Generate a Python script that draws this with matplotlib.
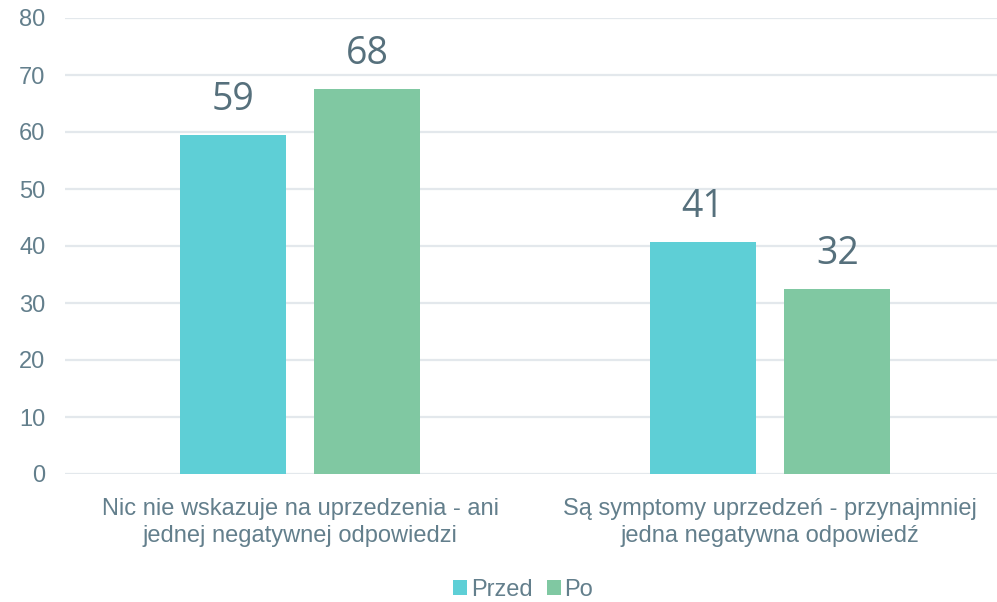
import matplotlib.pyplot as plt
import numpy as np
from matplotlib.patches import Patch

# --- data ---
categories = ['Nic nie wskazuje na uprzedzenia - ani\njednej negatywnej odpowiedzi',
              'Są symptomy uprzedzeń - przynajmniej\njedna negatywna odpowiedź']
przed = [59.4, 40.7]
po = [67.5, 32.4]
przed_labels = ['59', '41']
po_labels = ['68', '32']
series_names = ['Przed', 'Po']
y_ticks = [0, 10, 20, 30, 40, 50, 60, 70, 80]

c_przed = '#5ecfd6'
c_po = '#80c8a2'
tick_col = '#637f8c'
label_col = '#56707c'

fig = plt.figure(figsize=(9.97, 6.02), dpi=100)
ax = fig.add_axes([65 / 997, 1 - 474 / 602, 932 / 997, (474 - 18) / 602])

x = np.arange(len(categories))
w = 0.2255
off = 0.1436
b1 = ax.bar(x - off, przed, width=w, color=c_przed, zorder=3)
b2 = ax.bar(x + off, po, width=w, color=c_po, zorder=3)

for bars, labs in [(b1, przed_labels), (b2, po_labels)]:
    for rect, lab in zip(bars, labs):
        ax.annotate(lab, (rect.get_x() + rect.get_width() / 2, rect.get_height()),
                    xytext=(0, 11.5), textcoords='offset points',
                    ha='center', va='bottom', fontsize=27,
                    family='Open Sans', color=label_col)

ax.set_xlim(-0.5, -0.5 + 932 / 470)
ax.set_ylim(0, 80)
ax.set_yticks(y_ticks)
ax.set_xticks(x)
ax.set_xticklabels(categories, linespacing=1.3)
ax.yaxis.grid(True, color='#e3e8ec', linewidth=1.6, zorder=0)
ax.set_axisbelow(True)
for s in ax.spines.values():
    s.set_visible(False)
ax.tick_params(axis='both', length=0, labelsize=17, labelcolor=tick_col)
ax.tick_params(axis='y', pad=14)
ax.tick_params(axis='x', pad=17)
for t in ax.get_xticklabels() + ax.get_yticklabels():
    t.set_family('Liberation Sans')

handles = [Patch(facecolor=c_przed), Patch(facecolor=c_po)]
leg = fig.legend(handles, series_names, loc='center', ncol=2,
                 bbox_to_anchor=(523 / 997, 1 - 590 / 602), frameon=False,
                 handlelength=0.6, handleheight=0.6, handletextpad=0.15,
                 columnspacing=0.6, prop={'family': 'Liberation Sans', 'size': 17})
for t in leg.get_texts():
    t.set_color(tick_col)

fig.savefig('out.png', dpi=100)
